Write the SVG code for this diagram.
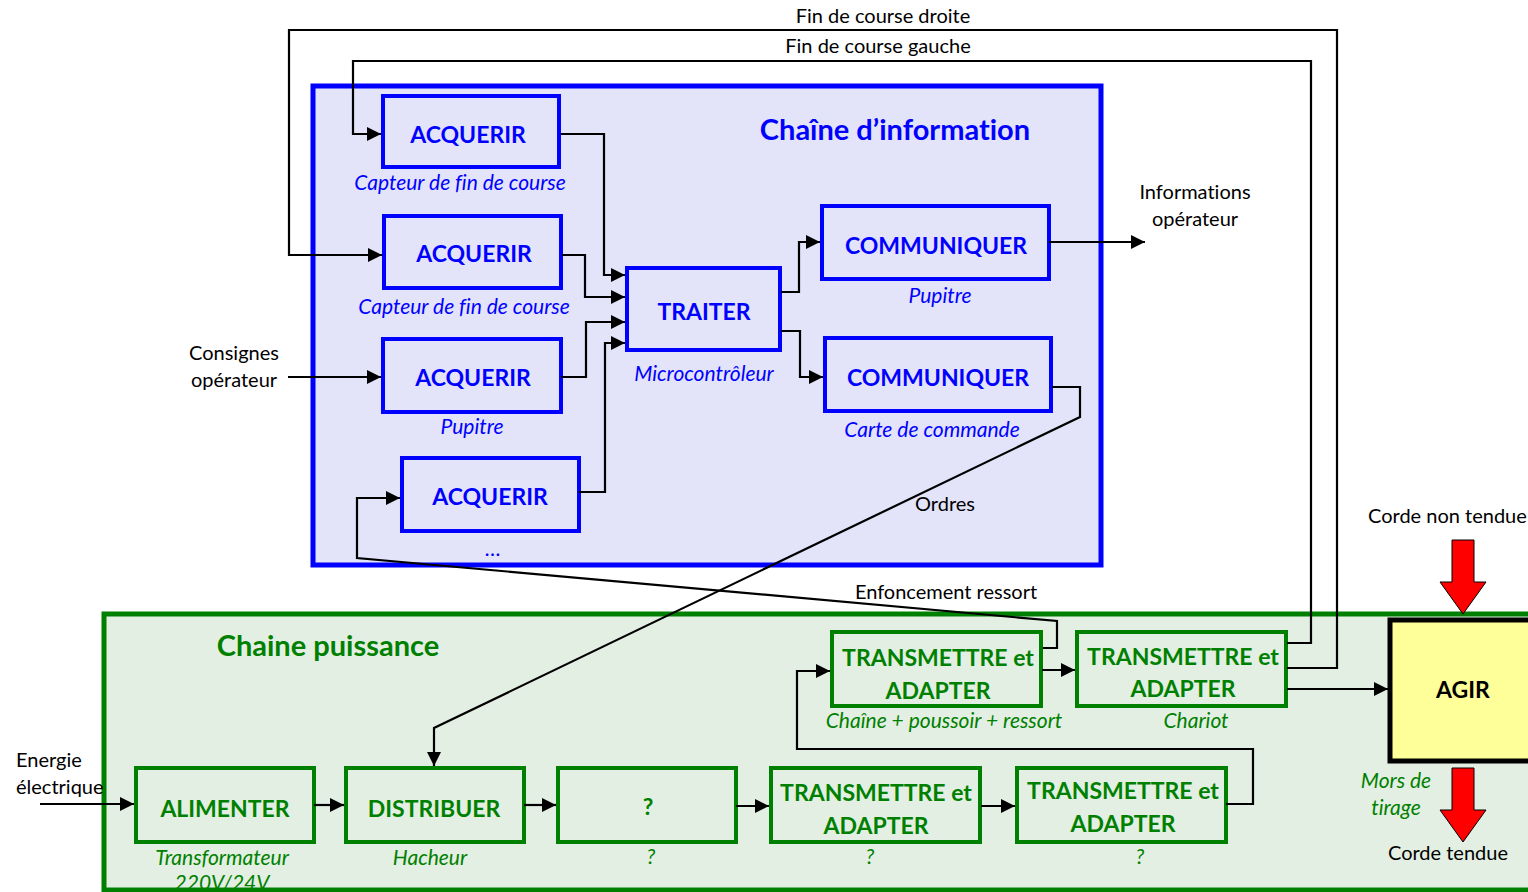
<svg xmlns="http://www.w3.org/2000/svg" width="1528" height="892" viewBox="0 0 1528 892">
<defs>
<marker id="ah" viewBox="0 0 10 10" refX="10" refY="5" markerWidth="16" markerHeight="14" markerUnits="userSpaceOnUse" orient="auto"><path d="M0,0 L10,5 L0,10 z" fill="#000"/></marker>
<style>
text{font-family:Lato,"Open Sans","Liberation Sans",sans-serif;font-variant-ligatures:none}
.bb{fill:#E3E3FA;stroke:#0000FF;stroke-width:4}
.gb{fill:#E3EFE3;stroke:#008000;stroke-width:4}
.bt{fill:#0000FF;font-weight:bold;font-size:23px;text-anchor:middle}
.gt{fill:#008000;font-weight:bold;font-size:23px;text-anchor:middle}
.bl{fill:#0000FF;font-style:italic;font-size:21px;text-anchor:middle}
.gl{fill:#008000;font-style:italic;font-size:21px;text-anchor:middle}
.k{fill:#000;font-size:20px}
.c{fill:none;stroke:#000;stroke-width:2.2;marker-end:url(#ah)}
</style>
</defs>
<rect width="1528" height="892" fill="#fff"/>

<g id="chaine-information">
<rect x="313" y="86" width="788" height="479" fill="#E3E3FA" stroke="#0000FF" stroke-width="5"/>
<text x="895" y="140" fill="#0000FF" font-weight="bold" font-size="29" text-anchor="middle">Chaîne d’information</text>
</g>

<g id="chaine-puissance">
<rect x="104" y="614" width="1440" height="276" fill="#E3EFE3" stroke="#008000" stroke-width="5"/>
<text x="328" y="656" fill="#008000" font-weight="bold" font-size="29" text-anchor="middle">Chaine puissance</text>
</g>

<g id="acquerir1"><rect class="bb" x="383" y="96" width="176" height="71"/><text class="bt" x="468" y="143">ACQUERIR</text><text class="bl" x="460" y="190">Capteur de fin de course</text></g>
<g id="acquerir2"><rect class="bb" x="384" y="216" width="177" height="72"/><text class="bt" x="474" y="262">ACQUERIR</text><text class="bl" x="464" y="314">Capteur de fin de course</text></g>
<g id="acquerir3"><rect class="bb" x="383" y="339" width="178" height="73"/><text class="bt" x="473" y="386">ACQUERIR</text><text class="bl" x="472" y="434">Pupitre</text></g>
<g id="acquerir4"><rect class="bb" x="402" y="458" width="177" height="73"/><text class="bt" x="490" y="505">ACQUERIR</text><text class="bl" x="493" y="556">…</text></g>
<g id="traiter"><rect class="bb" x="627" y="268" width="153" height="82"/><text class="bt" x="704" y="320">TRAITER</text><text class="bl" x="704" y="381">Microcontrôleur</text></g>
<g id="communiquer1"><rect class="bb" x="822" y="206" width="227" height="73"/><text class="bt" x="936" y="254">COMMUNIQUER</text><text class="bl" x="940" y="303">Pupitre</text></g>
<g id="communiquer2"><rect class="bb" x="825" y="338" width="226" height="73"/><text class="bt" x="938" y="386">COMMUNIQUER</text><text class="bl" x="932" y="437">Carte de commande</text></g>

<g id="alimenter"><rect class="gb" x="136" y="768" width="178" height="74"/><text class="gt" x="225" y="817">ALIMENTER</text><text class="gl" x="222" y="865">Transformateur</text><text class="gl" x="222" y="890">220V/24V</text></g>
<g id="distribuer"><rect class="gb" x="346" y="768" width="178" height="74"/><text class="gt" x="434" y="817">DISTRIBUER</text><text class="gl" x="430" y="865">Hacheur</text></g>
<g id="inconnu"><rect class="gb" x="558" y="768" width="178" height="74"/><text class="gt" x="648" y="815">?</text><text class="gl" x="651" y="864">?</text></g>
<g id="transmettre3"><rect class="gb" x="771" y="768" width="209" height="74"/><text class="gt" x="876" y="801">TRANSMETTRE et</text><text class="gt" x="876" y="834">ADAPTER</text><text class="gl" x="870" y="864">?</text></g>
<g id="transmettre4"><rect class="gb" x="1017" y="768" width="209" height="74"/><text class="gt" x="1123" y="799">TRANSMETTRE et</text><text class="gt" x="1123" y="832">ADAPTER</text><text class="gl" x="1140" y="864">?</text></g>
<g id="transmettre-chaine"><rect class="gb" x="832" y="632" width="209" height="74"/><text class="gt" x="938" y="666">TRANSMETTRE et</text><text class="gt" x="938" y="699">ADAPTER</text><text class="gl" x="944" y="728">Chaîne + poussoir + ressort</text></g>
<g id="transmettre-chariot"><rect class="gb" x="1077" y="632" width="209" height="74"/><text class="gt" x="1183" y="665">TRANSMETTRE et</text><text class="gt" x="1183" y="697">ADAPTER</text><text class="gl" x="1196" y="728">Chariot</text></g>

<g id="agir"><rect x="1390" y="620" width="146" height="141" fill="#FFFF99" stroke="#000" stroke-width="5"/><text x="1463" y="698" fill="#000" font-weight="bold" font-size="23" text-anchor="middle">AGIR</text><text class="gl" x="1396" y="788">Mors de</text><text class="gl" x="1396" y="815">tirage</text></g>

<g id="fleches-rouges">
<polygon points="1452,540 1474,540 1474,582 1486,582 1463,614 1440,582 1452,582" fill="#FF0000" stroke="#000" stroke-width="1"/>
<polygon points="1452,768 1474,768 1474,810 1486,810 1463,842 1440,810 1452,810" fill="#FF0000" stroke="#000" stroke-width="1"/>
</g>

<g id="connecteurs">
<path class="c" d="M1287,668 H1337 V30 H289 V255 H382"/>
<path class="c" d="M1287,643 H1311 V61 H353 V134 H381"/>
<path class="c" d="M561,134 H604 V275 H625"/>
<path class="c" d="M562,255 H585 V297 H625"/>
<path class="c" d="M561,377 H586 V322 H625"/>
<path class="c" d="M579,492 H605 V343 H625"/>
<path class="c" d="M288,377 H381"/>
<path class="c" d="M781,292 H799 V242 H820"/>
<path class="c" d="M781,331 H800 V377 H823"/>
<path class="c" d="M1049,242 H1145"/>
<path class="c" d="M1052,387 H1080 V417 L434,728 V766"/>
<path class="c" d="M1043,648 H1057 V621 L357,558 V498 H400"/>
<path class="c" d="M40,804 H134"/>
<path class="c" d="M314,805 H344"/>
<path class="c" d="M524,805 H556"/>
<path class="c" d="M736,806 H769"/>
<path class="c" d="M981,806 H1015"/>
<path class="c" d="M1226,804 H1253 V749 H797 V671 H830"/>
<path class="c" d="M1042,670 H1075"/>
<path class="c" d="M1287,689 H1388"/>
</g>

<g id="etiquettes">
<text class="k" x="883" y="23" text-anchor="middle">Fin de course droite</text>
<text class="k" x="878" y="53" text-anchor="middle">Fin de course gauche</text>
<text class="k" x="1195" y="199" text-anchor="middle">Informations</text>
<text class="k" x="1195" y="226" text-anchor="middle">opérateur</text>
<text class="k" x="234" y="360" text-anchor="middle">Consignes</text>
<text class="k" x="234" y="387" text-anchor="middle">opérateur</text>
<text class="k" x="945" y="511" text-anchor="middle">Ordres</text>
<text class="k" x="946" y="599" text-anchor="middle">Enfoncement ressort</text>
<text class="k" x="16" y="767">Energie</text>
<text class="k" x="16" y="794">électrique</text>
<text class="k" x="1368" y="523">Corde non tendue</text>
<text class="k" x="1448" y="860" text-anchor="middle">Corde tendue</text>
</g>
</svg>
